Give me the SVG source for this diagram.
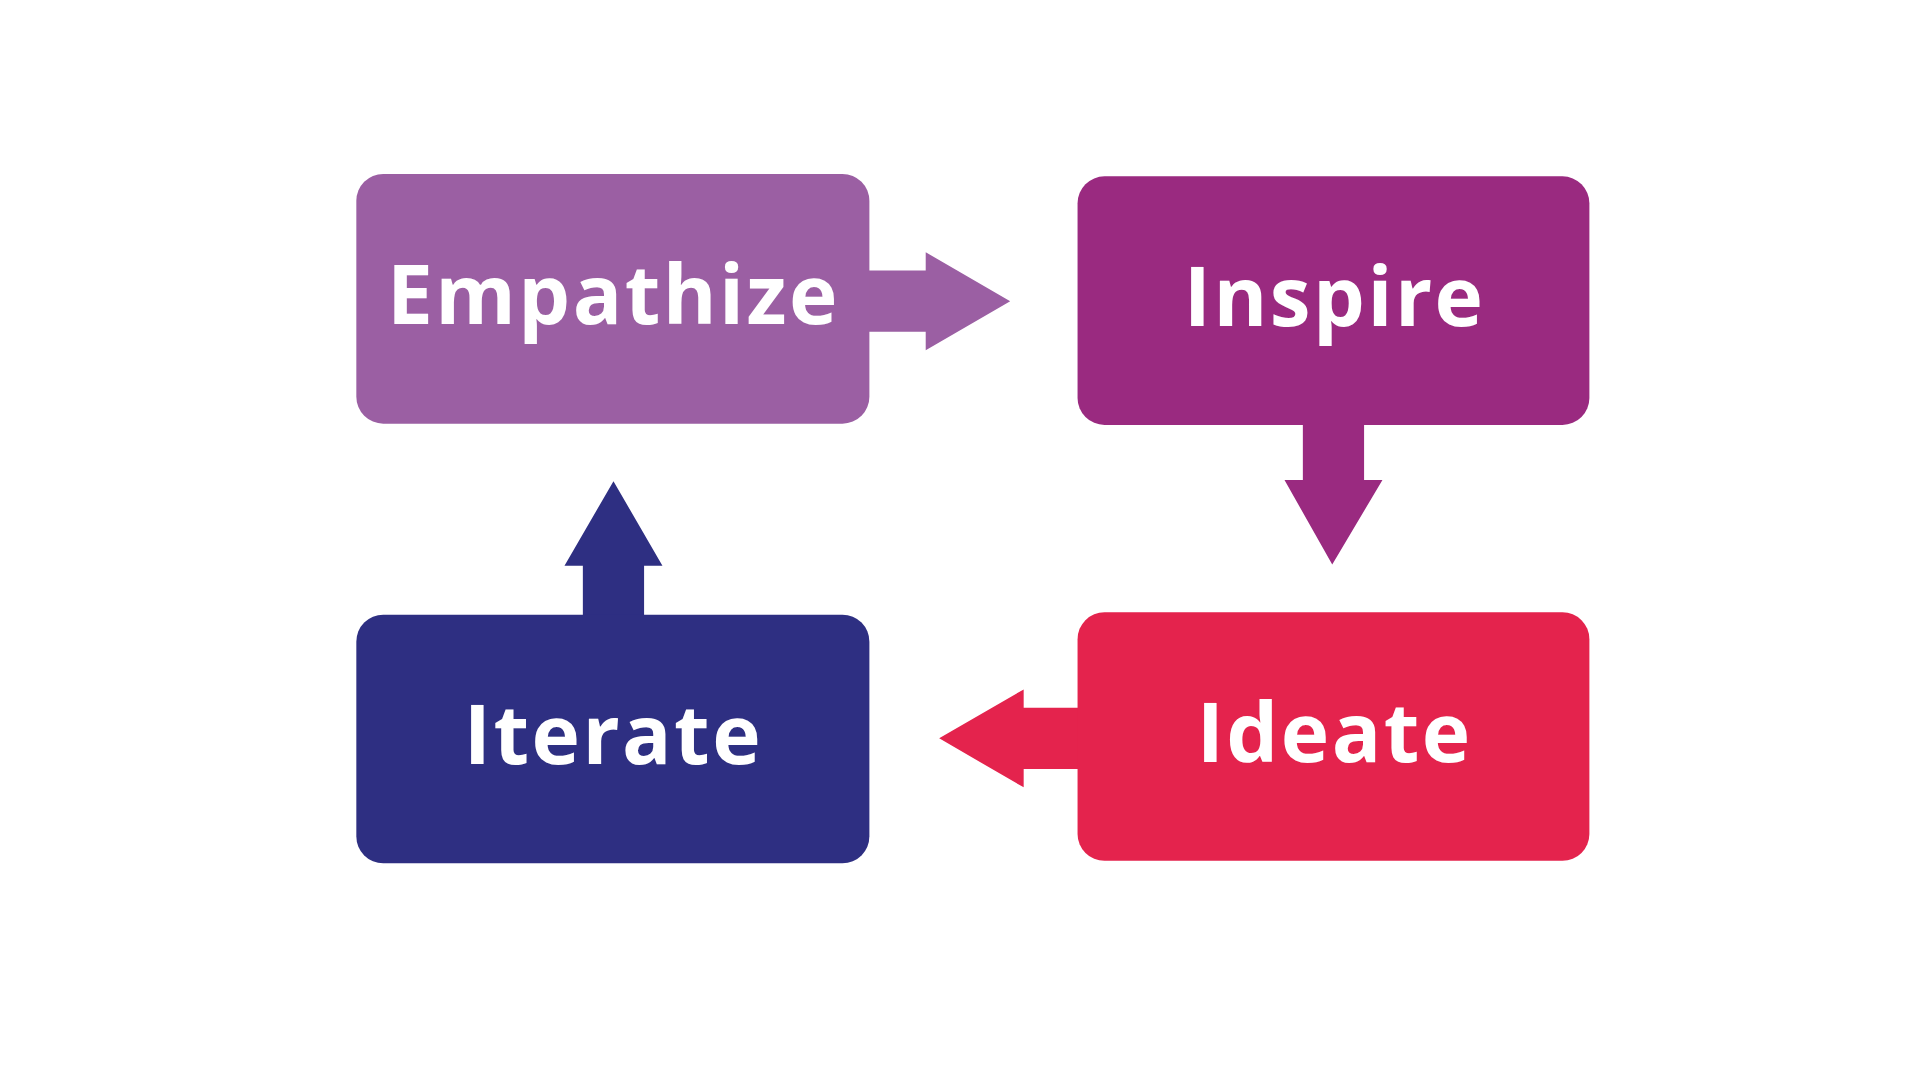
<svg xmlns="http://www.w3.org/2000/svg" width="1920" height="1080" viewBox="0 0 1920 1080">
<style>
.t{font-family:"Open Sans","Liberation Sans",sans-serif;font-weight:700;font-size:67px;fill:#fff;text-anchor:middle;letter-spacing:2px}
</style>
<rect width="1920" height="1080" fill="#fff"/>
<g transform="scale(1.22449)">
<g id="connectors">
<path d="M708 221H756V206L825 246L756 286V271H708Z" fill="#9B5FA3"/>
<path d="M1064 345V392H1049L1088 461L1129 392H1114V345Z" fill="#9A2A80"/>
<path d="M882 578H836V563L767 603L836 643V628H882Z" fill="#E4234D"/>
<path d="M476 504V462H461L501 393L541 462H526V504Z" fill="#2E2F82"/>
</g>
<g id="empathize"><rect x="291" y="142" width="419" height="204" rx="22" fill="#9B5FA3"/><text class="t" x="501" y="265">Empathize</text></g>
<g id="inspire"><rect x="880" y="144" width="418" height="203" rx="22" fill="#9A2A80"/><text class="t" x="1090" y="266">Inspire</text></g>
<g id="ideate"><rect x="880" y="500" width="418" height="203" rx="22" fill="#E4234D"/><text class="t" x="1090" y="622">Ideate</text></g>
<g id="iterate"><rect x="291" y="502" width="419" height="203" rx="22" fill="#2E2F82"/><text class="t" x="501" y="624">Iterate</text></g>
</g>
</svg>
